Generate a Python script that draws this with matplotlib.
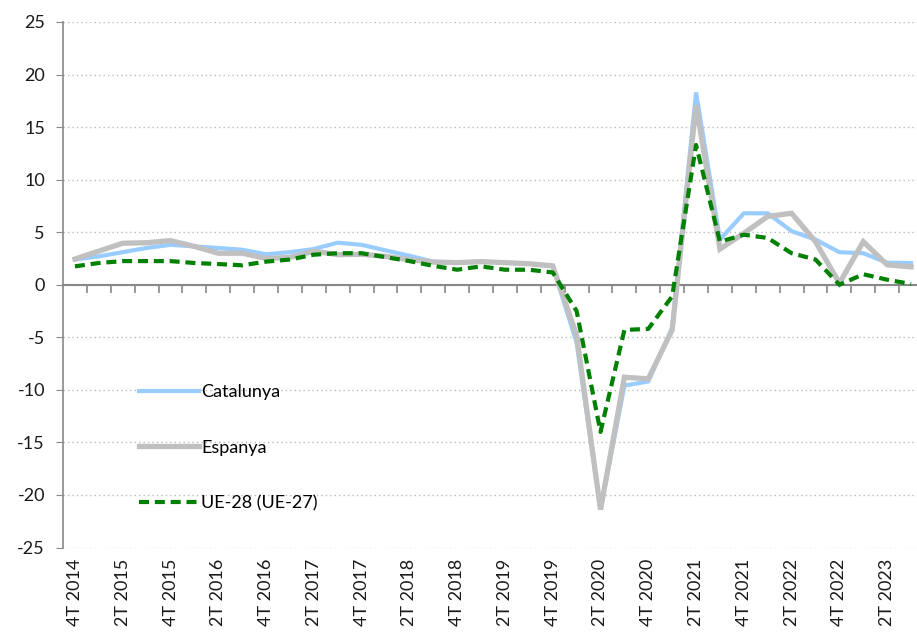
import matplotlib
matplotlib.use("Agg")
import matplotlib.pyplot as plt
import numpy as np

plt.rcParams['font.family'] = ['Lato', 'DejaVu Sans']

categories = ["4T 2014"]
for yr in range(2015, 2024):
    for q in range(1, 5):
        categories.append(f"{q}T {yr}")
categories = categories[:36]

catalunya = [2.4, 2.7, 3.1, 3.5, 3.8, 3.65, 3.5, 3.33, 2.9, 3.1, 3.4, 4.0, 3.8, 3.27, 2.76, 2.2,
             2.1, 2.2, 2.1, 2.0, 1.75, -5.5, -21.4, -9.6, -9.2, -4.1, 18.3, 4.3, 6.8, 6.8,
             5.1, 4.3, 3.1, 3.0, 2.1, 2.06]
espanya = [2.45, 3.2, 3.95, 4.0, 4.2, 3.65, 3.0, 3.0, 2.5, 2.6, 3.2, 2.86, 2.9, 2.7, 2.38, 2.16,
           2.1, 2.2, 2.1, 2.0, 1.8, -4.8, -21.4, -8.8, -8.95, -4.3, 17.1, 3.4, 4.9, 6.5,
           6.8, 4.1, 0.15, 4.1, 1.9, 1.7]
ue = [1.75, 2.07, 2.25, 2.25, 2.25, 2.07, 1.97, 1.85, 2.2, 2.4, 2.86, 3.0, 3.0, 2.63, 2.25, 1.8,
      1.43, 1.75, 1.43, 1.43, 1.17, -2.5, -14.0, -4.3, -4.2, -1.1, 13.3, 4.1, 4.76, 4.45,
      3.0, 2.4, 0.0, 1.0, 0.48, 0.07]

yticks = list(range(-25, 30, 5))

fig = plt.figure(figsize=(9.17, 6.37), dpi=100)
ax = fig.add_axes([63/917, 1-547.5/637, 860/917, 525.5/637])

x = np.arange(len(categories))
ax.plot(x, catalunya, color='#99CCFF', lw=3.0, label='Catalunya', solid_joinstyle='miter', zorder=3)
ax.plot(x, espanya, color='#C0C0C0', lw=3.8, label='Espanya', solid_joinstyle='miter', zorder=4)
ax.plot(x, ue, color='#008000', lw=3.0, ls=(0, (2.4, 1.4)), label='UE-28 (UE-27)', zorder=5)

ax.set_xlim(-0.5, len(categories) - 0.5)
ax.set_ylim(-25, 25)
ax.set_yticks(yticks)
ax.set_yticklabels([str(v) for v in yticks], fontsize=13, color='#1a1a1a')
ax.yaxis.grid(True, ls=(0, (1, 2.2)), color='#BBBBBB', lw=1.0)
ax.set_axisbelow(True)

for s in ['top', 'right']:
    ax.spines[s].set_visible(False)
ax.spines['left'].set_color('#888888')
ax.spines['left'].set_linewidth(1.2)
ax.spines['bottom'].set_position(('data', 0))
ax.spines['bottom'].set_color('#888888')
ax.spines['bottom'].set_linewidth(1.5)
ax.tick_params(axis='y', direction='out', length=5, color='#888888', pad=8)

ax.set_xticks(x[:-1] + 0.5)
ax.set_xticklabels([])
ax.tick_params(axis='x', direction='out', length=6, width=1.2, color='#888888')

sec = ax.secondary_xaxis('bottom')
sec.set_xticks(x[::2])
sec.set_xticklabels(categories[::2], rotation=90, fontsize=13, color='#1a1a1a')
sec.tick_params(length=0, pad=8)
sec.spines['bottom'].set_visible(False)

leg = ax.legend(loc='upper left', bbox_to_anchor=(0.08, 0.325), frameon=False,
                fontsize=13, handlelength=3.3, handletextpad=0.15, labelspacing=2.2,
                borderaxespad=0)

fig.savefig('out.png', dpi=100, facecolor='white')
